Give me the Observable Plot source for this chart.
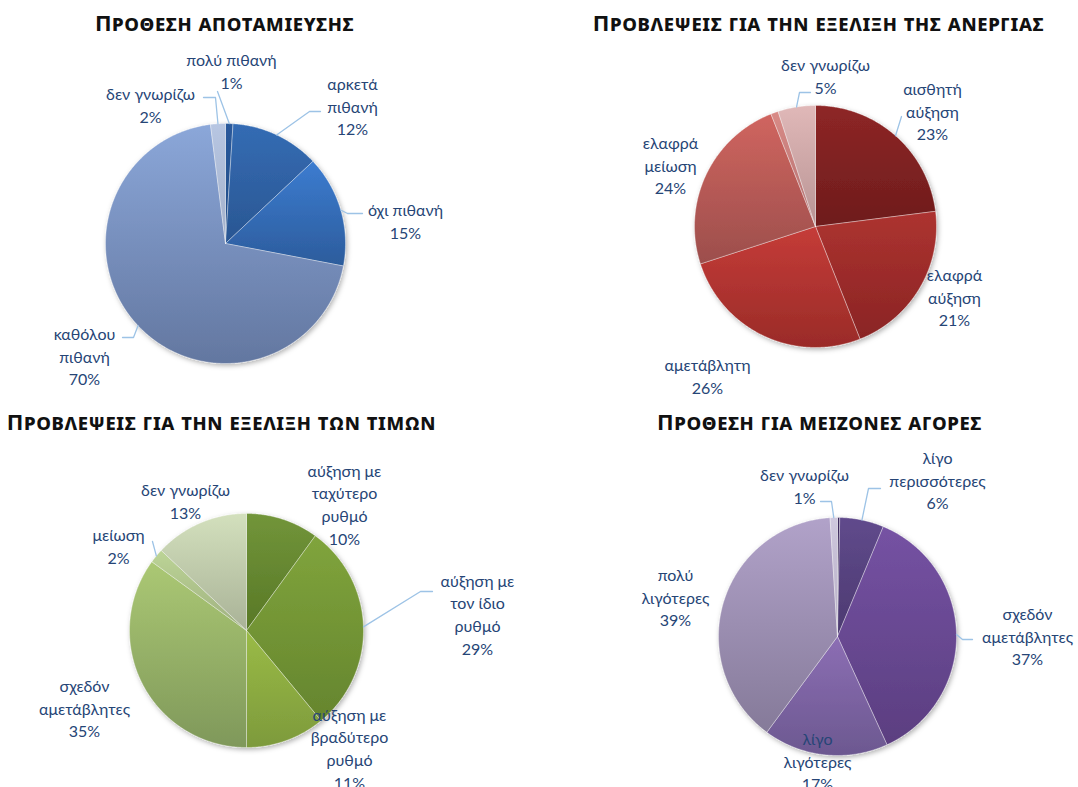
<!DOCTYPE html>
<html>
<head>
<meta charset="utf-8">
<script src="https://cdn.jsdelivr.net/npm/d3@7"></script>
<script src="https://cdn.jsdelivr.net/npm/@observablehq/plot@0.6"></script>
<style>
  html, body { margin: 0; padding: 0; background: #ffffff; }
  #chart svg { display: block; }
</style>
</head>
<body>
<div id="chart"></div>
<script>
// ---------------- DATA ----------------
const chartTitles = [
  "Προθεση αποταμιευσης",
  "Προβλεψεις για την εξελιξη της ανεργιας",
  "Προβλεψεις για την εξελιξη των τιμων",
  "Προθεση για μειζονες αγορες"
];

const savingLabels = ["πολύ πιθανή", "αρκετά\nπιθανή", "όχι πιθανή", "καθόλου\nπιθανή", "δεν γνωρίζω"];
const savingValues = [1, 12, 15, 70, 2];

const unemploymentLabels = ["αισθητή\nαύξηση", "ελαφρά\nαύξηση", "αμετάβλητη", "ελαφρά\nμείωση", "", "δεν γνωρίζω"];
const unemploymentValues = [23, 21, 26, 24, 1, 5];

const priceLabels = ["αύξηση με\nταχύτερο\nρυθμό", "αύξηση με\nτον ίδιο\nρυθμό", "αύξηση με\nβραδύτερο\nρυθμό", "σχεδόν\nαμετάβλητες", "μείωση", "δεν γνωρίζω"];
const priceValues = [10, 29, 11, 35, 2, 13];

const purchaseLabels = ["", "λίγο\nπερισσότερες", "σχεδόν\nαμετάβλητες", "λίγο\nλιγότερες", "πολύ\nλιγότερες", "δεν γνωρίζω"];
const purchaseValues = [0.3, 6, 37, 17, 39, 1];

// ---------------- STYLES / LAYOUT ----------------
const savingColors = [["#2a5a9c","#1f4a85"],["#346cb4","#2a5692"],["#3c7cd0","#2c5c9c"],["#8ba7d9","#6377a0"],["#b7c6e2","#a2b0ca"]];
const unemploymentColors = [["#8e2626","#6e1c1c"],["#ad3330","#8a2424"],["#c53c38","#9a2b28"],["#d0655f","#9c4e4c"],["#d98a86","#b07070"],["#e0b8b8","#b89494"]];
const priceColors = [["#72953a","#587826"],["#80a43c","#65852e"],["#9abb46","#7d9a3c"],["#abc874","#7f985a"],["#bcd496","#9fb080"],["#d3e0bd","#a9b297"]];
const purchaseColors = [["#3e2b5e","#2e2048"],["#604a8c","#4c3a70"],["#7552a3","#5b3e80"],["#8c6eb4","#6c5890"],["#b1a2c9","#857a99"],["#cfc8de","#b5aec4"]];

const W = 1078, H = 787;
const pies = [
  { title: chartTitles[0], tx: 224, ty: 23, cx: 225, cy: 243, r: 120,
    labels: savingLabels, values: savingValues, colors: savingColors,
    labelPos: [[231,70],[352,105],[405,220],[84,355],[150,104]],
    leaders: [{i:0, pts:[[217,91]]},{i:4, pts:[[215,97],[203,97]]},{i:1, pts:[[309,111],[320,111]]},{i:2, pts:[[347,213],[362,213]]},{i:3, pts:[[133,337],[122,337]]}] },
  { title: chartTitles[1], tx: 818, ty: 23, cx: 815, cy: 226, r: 121,
    labels: unemploymentLabels, values: unemploymentValues, colors: unemploymentColors,
    labelPos: [[932,110],[954,296],[707,375],[670,164],null,[825,75]],
    leaders: [{i:5, pts:[[799,92],[810,92]]},{i:0, pts:[[901,116]]}] },
  { title: chartTitles[2], tx: 221, ty: 422, cx: 246, cy: 630, r: 117,
    labels: priceLabels, values: priceValues, colors: priceColors,
    labelPos: [[344,503],[477,613],[349,747],[84,707],[118,545],[185,500]],
    leaders: [{i:4, pts:[[152,541]]},{i:1, pts:[[420,591],[432,591]]}] },
  { title: chartTitles[3], tx: 819, ty: 422, cx: 837, cy: 636, r: 119,
    labels: purchaseLabels, values: purchaseValues, colors: purchaseColors,
    labelPos: [null,[937,479],[1027,635],[817,760],[675,596],[804,485]],
    leaders: [{i:5, pts:[[831,501],[820,501]]},{i:1, pts:[[868,488],[880,488]]},{i:2, pts:[[962,639],[972,639]]}] }
];

// ---------------- BUILD MARK DATA ----------------
const slicePts = [], leaderPts = [], labelData = [], titleData = [], gradients = [];
pies.forEach((p, pi) => {
  titleData.push({x: p.tx, y: p.ty, text: p.title});
  const arcs = d3.pie().sort(null).value(d => d)(p.values);
  arcs.forEach((a, si) => {
    const id = `p${pi}s${si}`;
    gradients.push({id, c: p.colors[si]});
    const grad = `url(#g-${id})`;
    slicePts.push({id, grad, x: p.cx, y: p.cy});
    const n = Math.max(2, Math.ceil((a.endAngle - a.startAngle) / (Math.PI / 360)));
    for (let k = 0; k <= n; k++) {
      const t = a.startAngle + (a.endAngle - a.startAngle) * k / n;
      slicePts.push({id, grad, x: p.cx + p.r * Math.sin(t), y: p.cy - p.r * Math.cos(t)});
    }
    slicePts.push({id, grad, x: p.cx, y: p.cy});
    if (p.labels[si] && p.labelPos[si]) {
      labelData.push({x: p.labelPos[si][0], y: p.labelPos[si][1], text: `${p.labels[si]}\n${Math.round(p.values[si])}%`});
    }
  });
  p.leaders.forEach(l => {
    const a = arcs[l.i];
    const m = (a.startAngle + a.endAngle) / 2;
    const id = `L${pi}-${l.i}`;
    leaderPts.push({id, x: p.cx + p.r * Math.sin(m), y: p.cy - p.r * Math.cos(m)});
    l.pts.forEach(q => leaderPts.push({id, x: q[0], y: q[1]}));
  });
});

// ---------------- PLOT ----------------
const chart = Plot.plot({
  width: W, height: H,
  margin: 0,
  x: {domain: [0, W], range: [0, W], axis: null},
  y: {domain: [0, H], range: [0, H], axis: null},
  color: {type: "identity"},
  style: {background: "#ffffff"},
  marks: [
    Plot.line(slicePts, {x: "x", y: "y", z: "id", fill: "grad", stroke: "#ffffff", strokeOpacity: 0.45, strokeWidth: 0.8, curve: "linear"}),
    Plot.line(leaderPts, {x: "x", y: "y", z: "id", stroke: "#9dc3e6", strokeWidth: 1.3, curve: "linear"}),
    Plot.text(labelData, {x: "x", y: "y", text: "text", fill: "#264576", fontSize: 16, lineHeight: 1.42, fontFamily: "Lato, 'Noto Sans', sans-serif"}),
    Plot.text(titleData, {x: "x", y: "y", text: "text", fill: "#111111", fontSize: 22, fontWeight: "bold", fontVariant: "small-caps", fontFamily: "'Noto Sans', sans-serif"})
  ]
});

// gradients + shadow
const svg = d3.select(chart);
const defs = svg.insert("defs", ":first-child");
gradients.forEach(g => {
  const lg = defs.append("linearGradient").attr("id", `g-${g.id}`).attr("x1", 0).attr("y1", 0).attr("x2", 0).attr("y2", 1);
  lg.append("stop").attr("offset", "0%").attr("stop-color", g.c[0]);
  lg.append("stop").attr("offset", "100%").attr("stop-color", g.c[1]);
});
const f = defs.append("filter").attr("id", "pieShadow").attr("x", "-10%").attr("y", "-10%").attr("width", "120%").attr("height", "120%");
f.append("feDropShadow").attr("dx", 1.5).attr("dy", 2).attr("stdDeviation", 2.5).attr("flood-color", "#000").attr("flood-opacity", 0.3);
const lineGroups = chart.querySelectorAll('g[aria-label="line"]');
if (lineGroups[0]) lineGroups[0].setAttribute("filter", "url(#pieShadow)");
const textGroups = chart.querySelectorAll('g[aria-label="text"]');
if (textGroups[1]) textGroups[1].style.letterSpacing = "0.6px";

document.getElementById("chart").appendChild(chart);
</script>
</body>
</html>
